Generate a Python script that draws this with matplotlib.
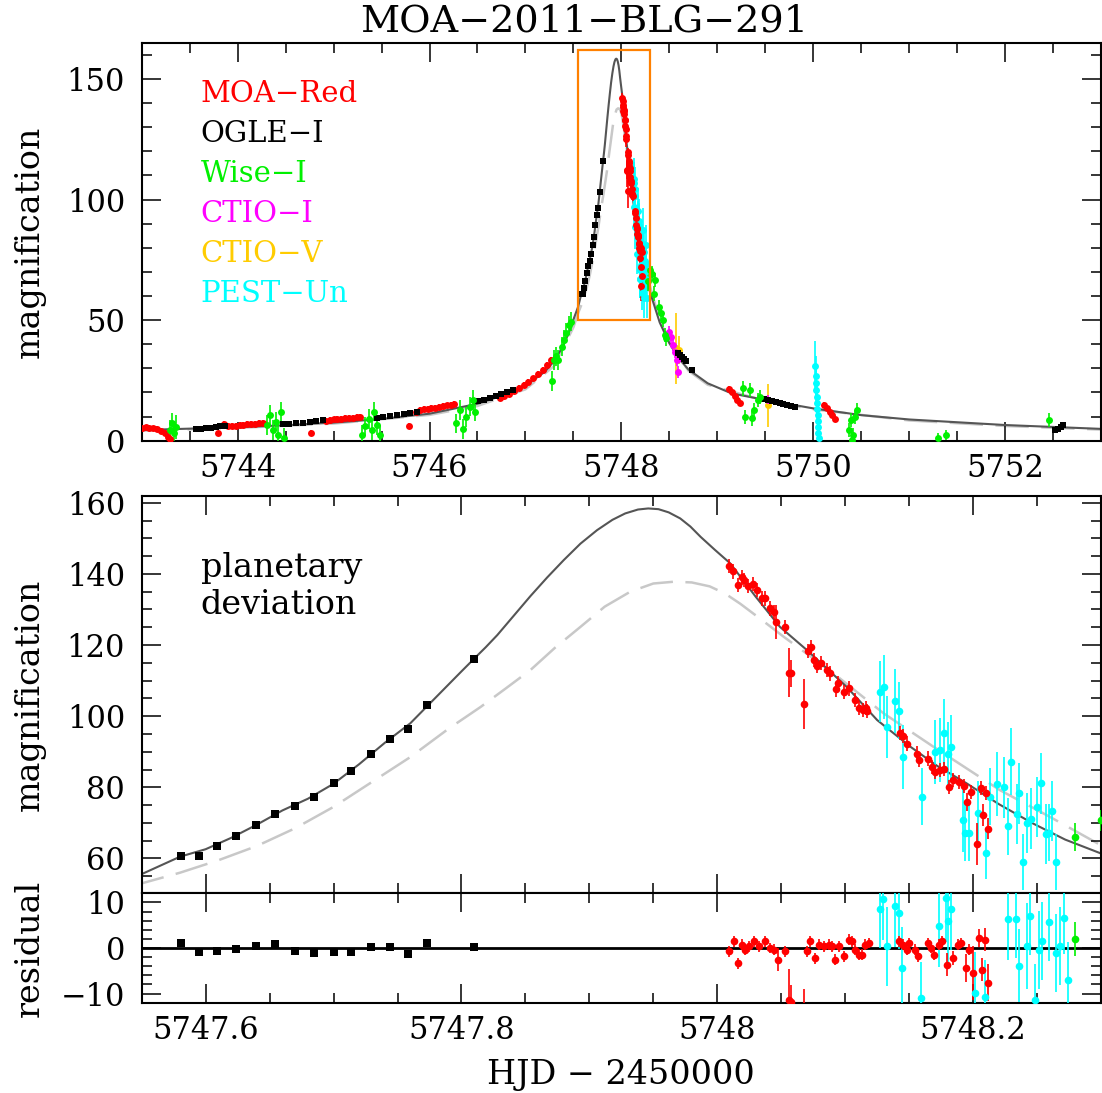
import matplotlib
matplotlib.use("Agg")
import matplotlib.pyplot as plt
from matplotlib.patches import Rectangle
from matplotlib.ticker import MultipleLocator, FormatStrFormatter

# ---- model light curves ----
model_t = [5743.0, 5743.5, 5744.0, 5744.5, 5745.0, 5745.5, 5746.0, 5746.5, 5746.8,
           5747.0, 5747.2, 5747.3, 5747.4, 5747.45, 5747.5, 5747.55, 5747.58, 5747.60,
           5747.62, 5747.64, 5747.66, 5747.68, 5747.70, 5747.72, 5747.74, 5747.76,
           5747.78, 5747.80, 5747.81, 5747.819, 5747.828, 5747.841, 5747.854, 5747.867,
           5747.880, 5747.893, 5747.906, 5747.918, 5747.928, 5747.938, 5747.946, 5747.954,
           5747.962, 5747.971, 5747.979, 5747.987, 5747.998, 5748.010, 5748.030, 5748.049,
           5748.070, 5748.101, 5748.125, 5748.151, 5748.172, 5748.195, 5748.220, 5748.247,
           5748.272, 5748.300, 5748.40, 5748.50, 5748.60, 5748.70, 5748.90, 5749.15,
           5749.50, 5750.00, 5750.50, 5751.00, 5752.00, 5753.00]
model_a = [4.4, 5.0, 5.6, 6.4, 7.5, 9.0, 11.2, 15.3, 19.3,
           22.8, 28.5, 33.0, 39.8, 44.6, 50.2, 55.6, 60.5, 62.6,
           65.8, 69.5, 73.5, 76.8, 81.0, 86.5, 92.5, 98.0,
           105.3, 112.6, 116.2, 119.4, 122.8, 128.3, 133.8, 139.0,
           143.9, 148.5, 152.3, 155.2, 157.0, 158.1, 158.4, 158.2,
           157.3, 155.6, 153.3, 150.4, 146.8, 143.0, 133.6, 125.1,
           118.6, 108.3, 98.9, 91.4, 86.0, 81.1, 75.3, 69.8,
           65.3, 61.4, 49.0, 40.5, 34.0, 29.5, 23.8, 19.6,
           16.9, 13.4, 10.6, 8.8, 6.5, 4.9]

single_t = [5743.0, 5744.0, 5745.0, 5746.0, 5746.5, 5747.0, 5747.3, 5747.5, 5747.55,
            5747.58, 5747.61, 5747.64, 5747.67, 5747.70, 5747.73, 5747.76, 5747.79,
            5747.815, 5747.835, 5747.854, 5747.873, 5747.893, 5747.912, 5747.932,
            5747.950, 5747.966, 5747.980, 5747.994, 5748.006, 5748.018, 5748.035, 5748.052,
            5748.091, 5748.130, 5748.169, 5748.221, 5748.260, 5748.300,
            5748.40, 5748.50, 5748.70, 5748.90, 5749.50, 5750.00, 5751.00, 5752.00, 5753.00]
single_a = [4.1, 5.3, 7.1, 10.7, 14.4, 21.3, 31.0, 47.0, 53.0,
            56.0, 59.5, 63.5, 68.5, 74.5, 81.5, 88.5, 96.5,
            102.6, 107.9, 113.0, 119.2, 125.1, 130.8, 135.0,
            137.3, 137.8, 137.6, 136.5, 134.5, 131.6, 127.0, 122.3,
            112.0, 100.8, 91.4, 79.2, 71.7, 63.7,
            50.0, 40.5, 29.0, 23.2, 16.5, 13.0, 8.4, 6.1, 4.6]

# ---- MOA-Red ----
moa_t = [5743.00, 5743.04, 5743.08, 5743.12, 5743.16, 5743.20, 5743.24, 5743.27, 5743.29,
         5743.80, 5743.86, 5743.90, 5743.94, 5743.98, 5744.02, 5744.06, 5744.10, 5744.14,
         5744.18, 5744.22, 5744.26, 5744.76, 5744.92, 5744.96, 5745.00, 5745.04, 5745.08,
         5745.12, 5745.16, 5745.20, 5745.24, 5745.28, 5745.79, 5745.86, 5745.90, 5745.94,
         5745.98, 5746.02, 5746.06, 5746.10, 5746.14, 5746.18, 5746.22, 5746.26, 5746.73,
         5746.78, 5746.83, 5746.88, 5746.93, 5746.98, 5747.03, 5747.08, 5747.13, 5747.18,
         5747.23, 5747.27,
         5748.009, 5748.012, 5748.016, 5748.019, 5748.021, 5748.024, 5748.028, 5748.031,
         5748.035, 5748.037, 5748.041, 5748.044, 5748.046, 5748.053, 5748.056, 5748.058,
         5748.068, 5748.071, 5748.073, 5748.076, 5748.078, 5748.081, 5748.086, 5748.088,
         5748.093, 5748.094, 5748.099, 5748.103, 5748.108, 5748.111, 5748.114, 5748.116,
         5748.117, 5748.143, 5748.145, 5748.148, 5748.156, 5748.158, 5748.165, 5748.168,
         5748.170, 5748.174, 5748.177, 5748.181, 5748.184, 5748.189, 5748.193, 5748.195,
         5748.198, 5748.203, 5748.206, 5748.208, 5748.210, 5748.212,
         5749.12, 5749.15, 5749.18, 5749.21, 5749.24, 5750.11, 5750.14, 5750.17, 5750.20,
         5750.23]
moa_a = [5.2, 5.5, 5.4, 5.1, 4.8, 4.2, 3.0, 1.5, 0.6,
         3.0, 6.8, 6.2, 6.0, 6.2, 6.4, 6.6, 6.8, 7.0,
         7.1, 7.3, 7.5, 3.2, 8.3, 8.6, 8.8, 9.0, 9.2,
         9.3, 9.5, 9.4, 9.7, 9.9, 6.0, 12.0, 12.6, 13.0,
         13.3, 13.6, 13.4, 13.9, 14.3, 14.6, 14.9, 15.3, 17.8,
         18.5, 19.5, 20.8, 22.0, 23.2, 24.3, 25.8, 27.5, 29.5,
         31.5, 33.5,
         142.2, 140.7, 136.9, 139.0, 138.2, 136.6, 137.1, 135.5,
         133.1, 133.1, 130.3, 129.3, 126.5, 125.1, 112.2, 112.0,
         103.4, 118.4, 119.5, 115.8, 114.1, 115.0, 113.0, 112.0,
         107.5, 109.2, 106.8, 107.8, 104.5, 102.2, 101.7, 102.2,
         101.4, 95.2, 94.5, 92.3, 89.5, 87.6, 88.1, 85.8,
         84.4, 84.8, 85.2, 80.1, 82.0, 81.5, 80.3, 75.9,
         78.7, 64.0, 79.9, 72.2, 78.3, 68.4,
         21.5, 20.0, 18.5, 17.0, 15.8, 15.0, 13.5, 12.0, 10.5,
         9.0]
moa_err = [1.2] * 56 + [
         2.0, 2.0, 2.0, 2.0, 2.0, 2.0, 2.0, 2.0,
         2.0, 2.0, 2.0, 2.0, 4.7, 2.0, 6.9, 3.7,
         7.0, 2.0, 2.0, 2.0, 2.0, 2.0, 2.0, 2.0,
         2.0, 2.0, 2.0, 2.0, 2.0, 2.0, 2.0, 2.0,
         2.0, 2.0, 2.0, 2.0, 2.0, 2.0, 2.0, 2.0,
         2.0, 2.0, 2.0, 2.0, 2.0, 2.0, 2.0, 2.5,
         2.0, 5.9, 2.0, 3.0, 2.0, 3.0] + [1.2] * 10

# ---- OGLE-I ----
ogle_t = [5743.57, 5743.62, 5743.67, 5743.72, 5743.77, 5743.82, 5743.87,
          5744.47, 5744.54, 5744.61, 5744.68, 5744.75, 5744.82, 5744.89,
          5745.45, 5745.52, 5745.59, 5745.66, 5745.73, 5745.80, 5745.87,
          5746.51, 5746.57, 5746.63, 5746.69, 5746.75, 5746.81, 5746.87,
          5747.581, 5747.595, 5747.609, 5747.624, 5747.639, 5747.654, 5747.670, 5747.685,
          5747.700, 5747.714, 5747.729, 5747.744, 5747.758, 5747.773, 5747.810,
          5748.59, 5748.61, 5748.63, 5748.65, 5748.67, 5748.74,
          5749.49, 5749.53, 5749.57, 5749.61, 5749.65, 5749.69, 5749.73, 5749.77, 5749.81,
          5752.52, 5752.55, 5752.58, 5752.60]
ogle_a = [4.8, 5.0, 5.2, 5.4, 5.7, 5.9, 6.2,
          6.8, 7.0, 7.3, 7.5, 7.8, 8.1, 8.4,
          9.3, 9.7, 10.2, 10.6, 11.0, 11.5, 12.0,
          16.3, 17.0, 17.8, 18.5, 19.4, 20.3, 21.2,
          60.7, 60.7, 63.5, 66.4, 69.45, 72.5, 74.7, 77.2,
          81.1, 84.5, 89.3, 93.6, 96.4, 103.2, 116.0,
          36.5, 35.5, 34.8, 34.0, 33.2, 29.3,
          17.2, 16.8, 16.3, 15.9, 15.5, 15.1, 14.7, 14.3, 13.9,
          4.3, 5.0, 5.8, 6.5]
ogle_err = [0.5] * 28 + [0.7] * 15 + [0.5] * 19
ogle_res = [1.2, -0.8, -0.6, -0.3, 0.4, 0.8, -0.7, -1.2, -0.9, -0.9, 0.2, 0.3, -1.4, 1.0, 0.3]

# ---- Wise-I ----
wise_t = [5743.30, 5743.32, 5743.34, 5743.36,
          5744.31, 5744.34, 5744.37, 5744.40, 5744.42, 5744.45, 5744.48,
          5745.30, 5745.33, 5745.37, 5745.40, 5745.42, 5745.45, 5745.48,
          5746.28, 5746.32, 5746.35, 5746.38, 5746.42, 5746.45, 5746.47,
          5747.278, 5747.30, 5747.32, 5747.34, 5747.38, 5747.40, 5747.42, 5747.45, 5747.47,
          5748.280, 5748.30, 5748.32, 5748.34, 5748.355, 5748.39, 5748.41, 5748.43, 5748.45,
          5748.465,
          5749.27, 5749.29, 5749.34, 5749.36, 5749.38, 5749.42, 5749.45,
          5750.37, 5750.39, 5750.40, 5750.41, 5750.44, 5750.46,
          5751.30, 5751.38, 5752.46]
wise_a = [4.5, 7.5, 3.0, 5.5,
          6.5, 10.6, 4.4, 7.9, 2.4, 12.0, 1.1,
          2.4, 5.9, 9.0, 4.4, 12.0, 6.5, 2.4,
          7.2, 12.7, 4.9, 9.8, 14.1, 16.9, 12.0,
          24.9, 33.4, 35.0, 33.5, 39.0, 41.8, 44.6, 47.9, 49.3,
          66.1, 70.7, 69.3, 61.0, 66.6, 55.5, 52.8, 50.0, 43.8,
          42.4,
          21.7, 9.9, 21.0, 9.3, 12.7, 16.9, 18.2,
          4.4, 8.6, 0.3, 2.3, 9.9, 12.7,
          1.0, 2.3, 8.6]
wise_err = [4.0, 4.0, 4.0, 5.0,
            4.0, 4.0, 4.0, 4.0, 4.0, 4.0, 4.0,
            4.0, 4.0, 4.0, 4.0, 4.0, 4.0, 4.0,
            4.0, 4.0, 4.0, 4.0, 4.0, 4.0, 4.0,
            4.1, 4.0, 4.0, 4.0, 4.0, 4.0, 4.0, 4.0, 4.0,
            3.9, 3.0, 3.0, 3.0, 3.0, 3.0, 3.0, 3.0, 3.0,
            3.0,
            3.0, 3.0, 3.0, 3.0, 3.0, 3.0, 3.0,
            3.0, 3.0, 3.0, 3.0, 3.0, 3.0,
            2.0, 2.0, 3.0]
wise_res_t = [5748.280]
wise_res = [2.0]
wise_res_err = [3.8]

# ---- CTIO-I / CTIO-V ----
ctioi_t = [5748.50, 5748.52, 5748.54, 5748.56, 5748.575, 5748.59, 5749.53]
ctioi_a = [45.2, 43.1, 39.6, 36.9, 33.4, 28.6, 16.9]
ctioi_err = [2.5, 2.5, 2.5, 2.5, 2.5, 2.5, 2.0]
ctiov_t = [5748.57, 5748.60, 5749.53]
ctiov_a = [38.3, 37.7, 14.6]
ctiov_err = [14.8, 5.7, 9.1]

# ---- PEST-Un ----
pest_t = [5748.127, 5748.130, 5748.133, 5748.139, 5748.142, 5748.145,
          5748.160, 5748.170, 5748.174, 5748.177, 5748.180, 5748.183,
          5748.192, 5748.194, 5748.197, 5748.204, 5748.210, 5748.213,
          5748.219, 5748.224, 5748.227, 5748.230, 5748.234, 5748.236,
          5748.239, 5748.242, 5748.245, 5748.250, 5748.253, 5748.257,
          5748.259, 5748.262, 5748.265,
          5750.020, 5750.025, 5750.030, 5750.030, 5750.035, 5750.040,
          5750.040, 5750.045, 5750.050, 5750.050, 5750.055, 5750.060]
pest_a = [106.9, 108.3, 97.0, 104.3, 101.5, 88.6,
          77.3, 90.0, 90.5, 95.2, 89.5, 91.2,
          70.8, 67.2, 67.2, 72.7, 61.4, 77.3,
          80.9, 80.0, 69.1, 87.2, 72.5, 78.3,
          59.0, 70.0, 71.2, 74.5, 81.1, 66.8,
          67.2, 73.4, 59.0,
          31.0, 27.0, 24.0, 21.0, 18.0, 15.5,
          13.0, 10.5, 8.0, 5.5, 3.0, 1.0]
pest_err = [8.6, 9.0, 8.7, 9.0, 8.0, 9.0,
            8.0, 9.0, 9.0, 9.6, 9.0, 9.0,
            9.0, 8.0, 8.0, 9.0, 7.3, 8.0,
            9.0, 8.5, 8.0, 9.4, 8.5, 8.5,
            8.0, 8.5, 8.5, 8.5, 8.5, 8.5,
            8.0, 8.5, 8.0,
            10.5, 8.0, 7.0, 6.0, 6.0, 5.0,
            5.0, 5.0, 5.0, 5.0, 4.0, 4.0]

# ---- residuals ----
moa_res_t = [5748.0088, 5748.0128, 5748.0159, 5748.0195, 5748.0219, 5748.0245, 5748.0284,
             5748.0323, 5748.0375, 5748.0414, 5748.0440, 5748.0471, 5748.0531, 5748.0557,
             5748.0576, 5748.0680, 5748.0701, 5748.0727, 5748.0766, 5748.0792, 5748.0831,
             5748.0870, 5748.0897, 5748.0922, 5748.0948, 5748.0987, 5748.1026, 5748.1053,
             5748.1079, 5748.1105, 5748.1131, 5748.1157, 5748.1183, 5748.1423, 5748.1449,
             5748.1480, 5748.1501, 5748.1548, 5748.1566, 5748.1644, 5748.1671, 5748.1697,
             5748.1736, 5748.1757, 5748.1793, 5748.1840, 5748.1879, 5748.1905, 5748.1944,
             5748.1970, 5748.1996, 5748.2043, 5748.2070, 5748.2096, 5748.2117]
moa_res = [-0.7, 1.5, -3.3, 0.7, -0.4, 0.4, 1.5,
           0.4, 1.5, 0.0, -0.4, -2.6, -0.7, -11.5,
           -11.8, -16.0, -0.7, 1.5, -2.2, 0.7, 0.4,
           0.7, 0.4, -2.6, 0.4, -1.8, 1.8, 1.5,
           -0.4, -1.5, -1.5, 0.7, 1.1, 1.5, 0.7,
           -0.4, 1.1, -0.4, -1.8, 1.1, 0.0, -1.5,
           0.7, 1.5, -3.7, -2.2, 0.7, 1.1, -4.4,
           -0.4, -5.5, 2.2, -4.8, 1.8, -7.6]
moa_res_err = [1.2, 1.2, 1.2, 1.2, 1.2, 1.2, 1.2,
               1.2, 1.2, 1.2, 1.2, 2.5, 1.2, 6.9,
               3.7, 7.0, 1.2, 1.2, 1.2, 1.2, 1.2,
               1.2, 1.2, 1.2, 1.2, 1.2, 1.2, 1.2,
               1.2, 1.2, 1.2, 1.2, 1.2, 1.2, 1.2,
               1.2, 1.2, 1.2, 1.2, 1.2, 1.2, 1.2,
               1.2, 1.2, 2.5, 1.5, 1.2, 1.2, 3.0,
               1.2, 6.0, 2.0, 2.5, 2.5, 4.0]

pest_res_t = [5748.1275, 5748.1296, 5748.1327, 5748.1392, 5748.1418, 5748.1447, 5748.1595,
              5748.1732, 5748.1785, 5748.1803, 5748.1829, 5748.2018, 5748.2096, 5748.2274,
              5748.2336, 5748.2362, 5748.2422, 5748.2448, 5748.2483, 5748.2514, 5748.2540,
              5748.2597, 5748.2652, 5748.2683, 5748.2714, 5748.2743]
pest_res = [8.6, 10.8, 0.4, 9.3, 7.7, -4.4, -11.0,
            4.8, 11.0, 5.9, 8.6, -9.9, -10.7, 6.3,
            6.4, -3.9, 0.4, 7.0, -11.4, -0.4, 1.5,
            5.7, -1.1, 0.4, 6.6, -7.1]
pest_res_err = [8.6, 9.0, 8.7, 9.0, 8.0, 9.0, 8.0,
                9.0, 9.6, 9.0, 9.0, 9.0, 8.0, 9.0,
                8.5, 8.0, 9.4, 8.5, 8.0, 8.5, 8.5,
                8.5, 8.5, 8.5, 8.0, 8.5]

legend_labels = ["MOA\u2212Red", "OGLE\u2212I", "Wise\u2212I", "CTIO\u2212I", "CTIO\u2212V", "PEST\u2212Un"]
legend_colors = ["#ff0000", "#000000", "#00f000", "#ff00ff", "#ffcc00", "#00ffff"]

RED, BLACK, GREEN, MAGENTA, GOLD, CYAN = legend_colors
SOLID = "#555555"
DASHED = "#c8c8c8"

plt.rcParams["font.family"] = ["DejaVu Serif"]
plt.rcParams["lines.scale_dashes"] = False


def style_axis(ax):
    for spine in ax.spines.values():
        spine.set_linewidth(1.5)
    ax.tick_params(which="both", direction="in", top=True, right=True, labelsize=22)
    ax.tick_params(which="major", length=14, width=1.1, pad=12)
    ax.tick_params(which="minor", length=7, width=1.1)


def draw_models(ax):
    ax.plot(single_t, single_a, color=DASHED, lw=1.8, dashes=(24, 9), zorder=1)
    ax.plot(model_t, model_a, color=SOLID, lw=1.5, zorder=2)


def draw_data(ax, ms):
    kw = dict(capsize=2.5, elinewidth=1.2, capthick=1.2, mew=0, zorder=3, ls="none")
    ax.errorbar(pest_t, pest_a, yerr=pest_err, fmt="o", color=CYAN, ms=ms, **kw)
    ax.errorbar(ctiov_t, ctiov_a, yerr=ctiov_err, fmt="o", color=GOLD, ms=ms, **kw)
    ax.errorbar(ctioi_t, ctioi_a, yerr=ctioi_err, fmt="o", color=MAGENTA, ms=ms, **kw)
    ax.errorbar(moa_t, moa_a, yerr=moa_err, fmt="o", color=RED, ms=ms, **kw)
    ax.errorbar(ogle_t, ogle_a, yerr=ogle_err, fmt="s", color=BLACK, ms=ms, **kw)
    ax.errorbar(wise_t, wise_a, yerr=wise_err, fmt="o", color=GREEN, ms=ms, **kw)


fig = plt.figure(figsize=(11.02, 10.93), dpi=100)
ax_top = fig.add_axes([0.1286, 0.5968, 0.8705, 0.3641])
ax_mid = fig.add_axes([0.1286, 0.1827, 0.8705, 0.3635])
ax_res = fig.add_axes([0.1286, 0.0826, 0.8705, 0.1001])

# top panel: whole event
draw_models(ax_top)
draw_data(ax_top, 5.0)
ax_top.add_patch(Rectangle((5747.55, 50), 0.75, 112, fill=False, ec="#ff8000", lw=1.6, zorder=4))
ax_top.set_xlim(5743, 5753)
ax_top.set_ylim(0, 165)
ax_top.xaxis.set_major_locator(MultipleLocator(2))
ax_top.xaxis.set_minor_locator(MultipleLocator(0.5))
ax_top.yaxis.set_major_locator(MultipleLocator(50))
ax_top.yaxis.set_minor_locator(MultipleLocator(10))
ax_top.set_ylabel("magnification", fontsize=24)
ax_top.yaxis.set_label_coords(-0.100, 0.5)
style_axis(ax_top)
ax_top.tick_params(axis="x", which="major", pad=9)
for i, (lab, col) in enumerate(zip(legend_labels, legend_colors)):
    ax_top.text(0.0615, 0.871 - i * 0.1005, lab, color=col, fontsize=21,
                transform=ax_top.transAxes, va="center", ha="left")
fig.text(0.530, 1 - 22 / 1093, "MOA\u22122011\u2212BLG\u2212291", fontsize=27.5,
         ha="center", va="center")

# middle panel: peak zoom
draw_models(ax_mid)
draw_data(ax_mid, 5.5)
ax_mid.set_xlim(5747.55, 5748.3)
ax_mid.set_ylim(50.2, 161.9)
ax_mid.xaxis.set_major_locator(MultipleLocator(0.2))
ax_mid.xaxis.set_minor_locator(MultipleLocator(0.05))
ax_mid.yaxis.set_major_locator(MultipleLocator(20))
ax_mid.yaxis.set_minor_locator(MultipleLocator(5))
ax_mid.set_ylabel("magnification", fontsize=24)
ax_mid.yaxis.set_label_coords(-0.100, 0.5)
style_axis(ax_mid)
ax_mid.tick_params(labelbottom=False)
ax_mid.text(0.0615, 0.772, "planetary\ndeviation", fontsize=24, transform=ax_mid.transAxes,
            va="center", ha="left", linespacing=1.2)

# residual panel
kw = dict(capsize=2.5, elinewidth=1.2, capthick=1.2, mew=0, zorder=3, ls="none")
ax_res.axhline(0, color="k", lw=2, zorder=2)
ax_res.errorbar(pest_res_t, pest_res, yerr=pest_res_err, fmt="o", color=CYAN, ms=5.5, **kw)
ax_res.errorbar(moa_res_t, moa_res, yerr=moa_res_err, fmt="o", color=RED, ms=5.5, **kw)
ax_res.errorbar(ogle_t[28:43], ogle_res, yerr=ogle_err[28:43], fmt="s", color=BLACK, ms=5.5, **kw)
ax_res.errorbar(wise_res_t, wise_res, yerr=wise_res_err, fmt="o", color=GREEN, ms=5.5, **kw)
ax_res.set_xlim(5747.55, 5748.3)
ax_res.set_ylim(-12, 12)
ax_res.xaxis.set_major_locator(MultipleLocator(0.2))
ax_res.xaxis.set_minor_locator(MultipleLocator(0.05))
ax_res.xaxis.set_major_formatter(FormatStrFormatter("%g"))
ax_res.yaxis.set_major_locator(MultipleLocator(10))
ax_res.yaxis.set_minor_locator(MultipleLocator(2))
ax_res.set_ylabel("residual", fontsize=24)
ax_res.yaxis.set_label_coords(-0.100, 0.5)
style_axis(ax_res)
ax_res.tick_params(axis="x", which="major", pad=9)
fig.text(0.5635, 1 - 1075 / 1093, "HJD \u2212 2450000", fontsize=24, ha="center", va="center")

fig.savefig("out.png", dpi=100)
